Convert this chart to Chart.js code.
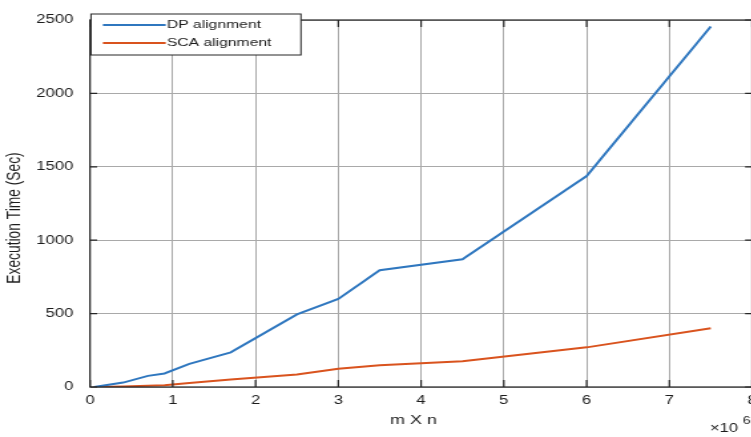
<!DOCTYPE html>
<html>
<head>
<meta charset="utf-8">
<script src="https://cdn.jsdelivr.net/npm/chart.js@4.4.1/dist/chart.umd.min.js"></script>
<style>
  html, body { margin: 0; padding: 0; background: #fff; overflow: hidden; width: 751px; height: 437px; }
  /* the figure is drawn narrow and widened horizontally */
  #plot { transform: scaleX(1.33); transform-origin: 0 0; display: block; }
</style>
</head>
<body>
<canvas id="plot" width="575" height="437"></canvas>
<script>
// Problem size (m x n, in millions) and measured run times
const sizes = [0.05, 0.4, 0.7, 0.9, 1.2, 1.7, 2.5, 3.0, 3.5, 4.5, 6.0, 7.5];
const dpTimes = [0, 30, 76, 92, 158, 236, 495, 600, 795, 870, 1437, 2456];
const scaTimes = [0, 4, 9, 12, 27, 51, 85, 125, 148, 176, 270, 400];

// Axis ticks
const xTicks = [0, 1, 2, 3, 4, 5, 6, 7, 8];
const yTicks = [0, 500, 1000, 1500, 2000, 2500];

const seriesNames = ['DP alignment', 'SCA alignment'];
const seriesColors = ['#2f77bf', '#d9531e'];

const axisColor = '#1c1c1c';
const fontFamily = '"Liberation Sans", Arial, sans-serif';

function toPoints(xs, ys) {
  return xs.map((x, i) => ({ x: x, y: ys[i] }));
}

// Box, inward ticks, legend and axis labels
const framePlugin = {
  id: 'frame',
  afterDraw(chart) {
    const { ctx, chartArea: a, scales: { x, y } } = chart;
    ctx.save();

    ctx.strokeStyle = '#262626';
    ctx.lineWidth = 1.2;
    ctx.strokeRect(a.left, a.top, a.right - a.left, a.bottom - a.top);

    ctx.beginPath();
    xTicks.forEach(v => {
      const px = x.getPixelForValue(v);
      ctx.moveTo(px, a.bottom); ctx.lineTo(px, a.bottom - 7);
      ctx.moveTo(px, a.top); ctx.lineTo(px, a.top + 7);
    });
    yTicks.forEach(v => {
      const py = y.getPixelForValue(v);
      ctx.moveTo(a.left, py); ctx.lineTo(a.left + 5.3, py);
      ctx.moveTo(a.right, py); ctx.lineTo(a.right - 5.3, py);
    });
    ctx.stroke();

    // legend box
    ctx.fillStyle = '#fff';
    ctx.fillRect(68.4, 14, 157.9, 41);
    ctx.lineWidth = 1;
    ctx.strokeRect(68.4, 14, 157.9, 41);
    ctx.font = '11.8px ' + fontFamily;
    ctx.textBaseline = 'middle';
    ctx.textAlign = 'left';
    chart.data.datasets.forEach((ds, i) => {
      const ly = 25 + i * 18;
      ctx.strokeStyle = ds.borderColor;
      ctx.lineWidth = 2;
      ctx.beginPath();
      ctx.moveTo(77.4, ly); ctx.lineTo(124.6, ly);
      ctx.stroke();
      ctx.fillStyle = axisColor;
      ctx.fillText(ds.label, 125.4, ly);
    });

    // axis titles
    ctx.fillStyle = axisColor;
    ctx.font = '13.5px ' + fontFamily;
    ctx.textAlign = 'center';
    ctx.fillText('m X n', 310.9, 420);

    ctx.save();
    ctx.translate(11.3, 218);
    ctx.rotate(-Math.PI / 2);
    ctx.font = '13.8px ' + fontFamily;
    ctx.fillText('Execution Time (Sec)', 0, 0);
    ctx.restore();

    // exponent for the x axis
    ctx.textAlign = 'left';
    ctx.font = '12.5px ' + fontFamily;
    ctx.fillText('\u00d710', 533.8, 429);
    ctx.font = '10.5px ' + fontFamily;
    ctx.fillText('6', 558.6, 421);

    ctx.restore();
  }
};

const chart = new Chart(document.getElementById('plot'), {
  type: 'line',
  data: {
    datasets: [
      {
        label: seriesNames[0],
        data: toPoints(sizes, dpTimes),
        borderColor: seriesColors[0],
        borderWidth: 2,
        pointRadius: 0,
        tension: 0
      },
      {
        label: seriesNames[1],
        data: toPoints(sizes, scaTimes),
        borderColor: seriesColors[1],
        borderWidth: 2,
        pointRadius: 0,
        tension: 0
      }
    ]
  },
  options: {
    responsive: false,
    animation: false,
    devicePixelRatio: 1,
    layout: { padding: { left: 0, right: 8.1, top: 14, bottom: 0 } },
    plugins: {
      legend: { display: false },
      tooltip: { enabled: false }
    },
    scales: {
      x: {
        type: 'linear',
        min: 0,
        max: 8,
        afterBuildTicks: scale => { scale.ticks = xTicks.map(v => ({ value: v })); },
        afterFit: scale => { scale.height = 50; },
        grid: { color: '#a9a9a9', lineWidth: 1, drawTicks: false },
        border: { display: false },
        ticks: {
          color: axisColor,
          padding: 6,
          maxRotation: 0,
          font: { family: fontFamily, size: 12.5 },
          callback: v => String(v)
        }
      },
      y: {
        min: 0,
        max: 2500,
        afterBuildTicks: scale => { scale.ticks = yTicks.map(v => ({ value: v })); },
        afterFit: scale => { scale.width = 67.67; },
        grid: { color: '#a9a9a9', lineWidth: 1, drawTicks: false },
        border: { display: false },
        ticks: {
          color: axisColor,
          padding: 12.5,
          font: { family: fontFamily, size: 12.5 },
          callback: v => String(v)
        }
      }
    }
  },
  plugins: [framePlugin]
});
</script>
</body>
</html>
